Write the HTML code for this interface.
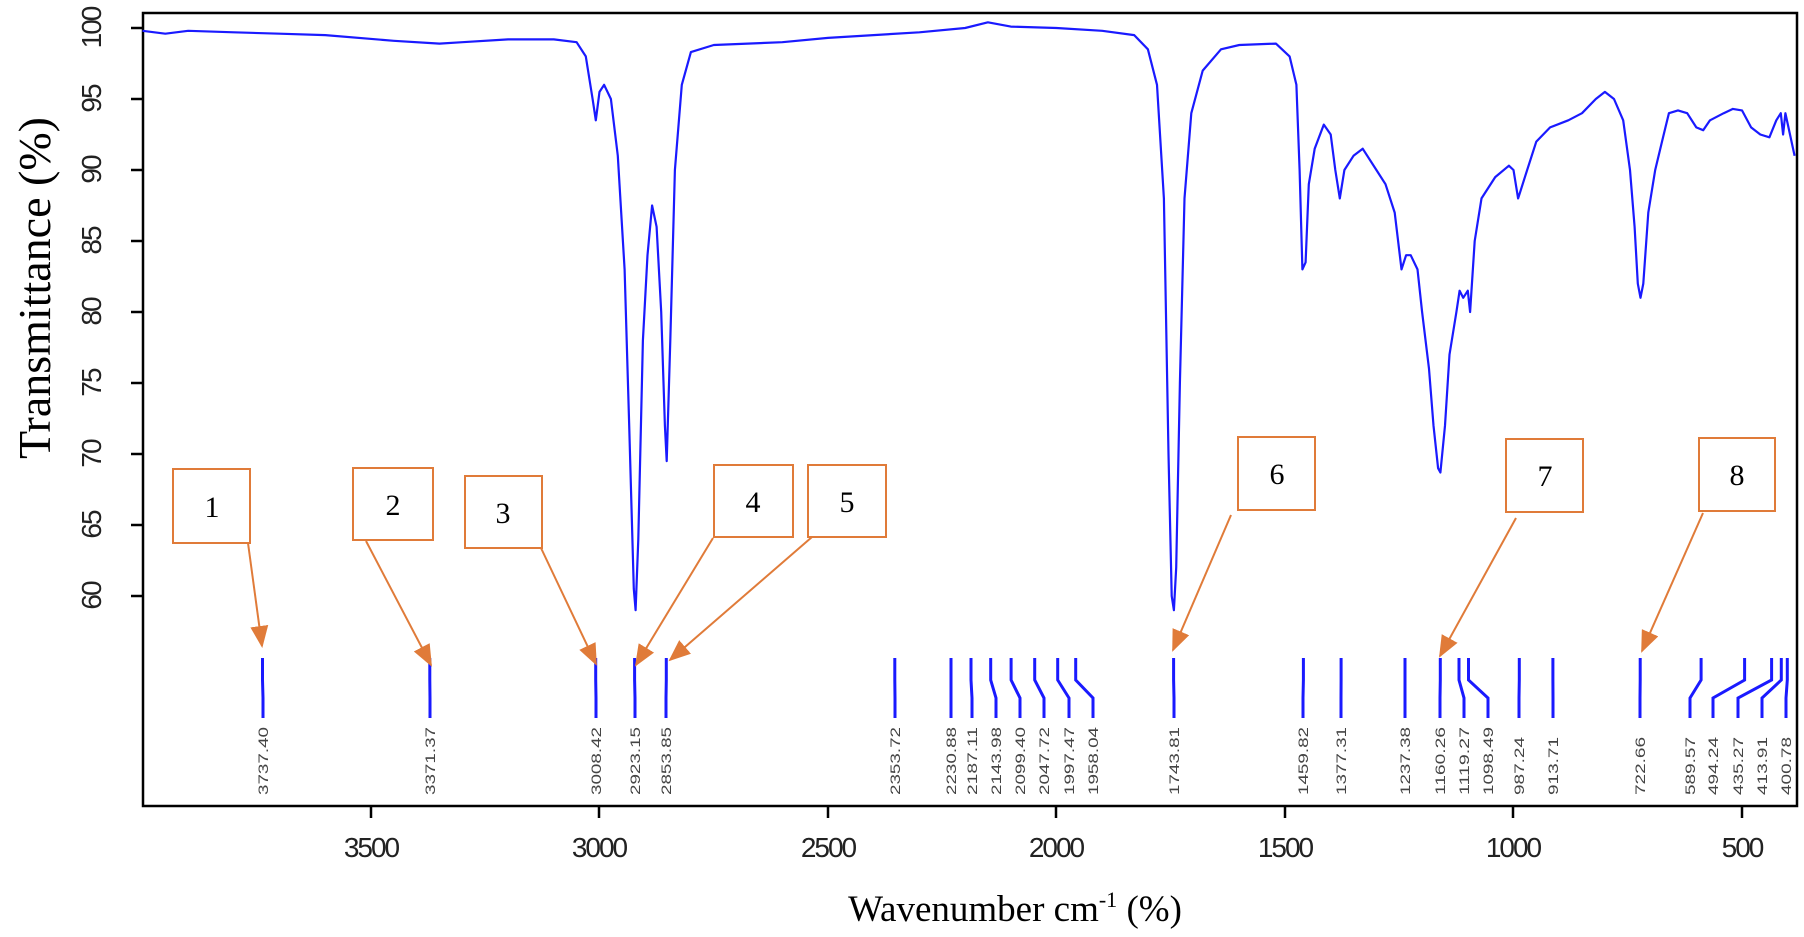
<!DOCTYPE html>
<html><head><meta charset="utf-8"><style>
html,body{margin:0;padding:0;background:#fff;}
svg{display:block;}
.tk{font-family:"Liberation Sans",sans-serif;font-size:28px;fill:#222;letter-spacing:-2px;}
.pk{font-family:"Liberation Sans",sans-serif;font-size:14px;fill:#444;}
.num{font-family:"Liberation Serif",serif;font-size:30px;fill:#000;}
.ax{font-family:"Liberation Serif",serif;fill:#000;}
</style></head><body>
<svg id="s" width="1804" height="937" viewBox="0 0 1804 937" xmlns="http://www.w3.org/2000/svg">
<defs>
<marker id="ah2" markerWidth="22" markerHeight="18" refX="20" refY="9" orient="auto" markerUnits="userSpaceOnUse"><path d="M0,0 L22,9 L0,18 z" fill="#e07b39"/></marker></defs>
<rect x="143" y="13" width="1654" height="793" fill="none" stroke="#000" stroke-width="2.5"/>
<path id="spec" fill="none" stroke="#1a1aff" stroke-width="2.2" stroke-linejoin="round"/>
<g id="sticks" stroke="#1a1aff" stroke-width="3" fill="none"></g>
<g stroke="#000" stroke-width="2.5">
<line x1="131" y1="28" x2="143" y2="28"/><line x1="131" y1="99" x2="143" y2="99"/><line x1="131" y1="170" x2="143" y2="170"/><line x1="131" y1="241" x2="143" y2="241"/><line x1="131" y1="312" x2="143" y2="312"/><line x1="131" y1="383" x2="143" y2="383"/><line x1="131" y1="454" x2="143" y2="454"/><line x1="131" y1="525" x2="143" y2="525"/><line x1="131" y1="596" x2="143" y2="596"/>
<line x1="371" y1="806" x2="371" y2="818"/><line x1="599" y1="806" x2="599" y2="818"/><line x1="828" y1="806" x2="828" y2="818"/><line x1="1056" y1="806" x2="1056" y2="818"/><line x1="1285" y1="806" x2="1285" y2="818"/><line x1="1513" y1="806" x2="1513" y2="818"/><line x1="1742" y1="806" x2="1742" y2="818"/>
</g>
<g class="tk" text-anchor="middle">
<text transform="translate(101,28) rotate(-90)">100</text>
<text transform="translate(101,99) rotate(-90)">95</text>
<text transform="translate(101,170) rotate(-90)">90</text>
<text transform="translate(101,241) rotate(-90)">85</text>
<text transform="translate(101,312) rotate(-90)">80</text>
<text transform="translate(101,383) rotate(-90)">75</text>
<text transform="translate(101,454) rotate(-90)">70</text>
<text transform="translate(101,525) rotate(-90)">65</text>
<text transform="translate(101,596) rotate(-90)">60</text>
<text x="371" y="857">3500</text><text x="599" y="857">3000</text><text x="828" y="857">2500</text><text x="1056" y="857">2000</text><text x="1285" y="857">1500</text><text x="1742" y="857">500</text><text x="1513" y="857">1000</text>
</g>
<text class="ax" font-size="46" transform="translate(50,288) rotate(-90)" text-anchor="middle">Transmittance (%)</text>
<text class="ax" font-size="37" x="1015" y="921" text-anchor="middle">Wavenumber cm<tspan font-size="22" dy="-14">-1</tspan><tspan dy="14"> (%)</tspan></text>
<g class="pk" lengthAdjust="spacingAndGlyphs">
<text textLength="68" lengthAdjust="spacingAndGlyphs" transform="translate(268,795) rotate(-90)">3737.40</text>
<text textLength="68" lengthAdjust="spacingAndGlyphs" transform="translate(435,795) rotate(-90)">3371.37</text>
<text textLength="68" lengthAdjust="spacingAndGlyphs" transform="translate(601,795) rotate(-90)">3008.42</text>
<text textLength="68" lengthAdjust="spacingAndGlyphs" transform="translate(640,795) rotate(-90)">2923.15</text>
<text textLength="68" lengthAdjust="spacingAndGlyphs" transform="translate(671,795) rotate(-90)">2853.85</text>
<text textLength="68" lengthAdjust="spacingAndGlyphs" transform="translate(900,795) rotate(-90)">2353.72</text>
<text textLength="68" lengthAdjust="spacingAndGlyphs" transform="translate(956,795) rotate(-90)">2230.88</text>
<text textLength="68" lengthAdjust="spacingAndGlyphs" transform="translate(977,795) rotate(-90)">2187.11</text>
<text textLength="68" lengthAdjust="spacingAndGlyphs" transform="translate(1001,795) rotate(-90)">2143.98</text>
<text textLength="68" lengthAdjust="spacingAndGlyphs" transform="translate(1025,795) rotate(-90)">2099.40</text>
<text textLength="68" lengthAdjust="spacingAndGlyphs" transform="translate(1049,795) rotate(-90)">2047.72</text>
<text textLength="68" lengthAdjust="spacingAndGlyphs" transform="translate(1074,795) rotate(-90)">1997.47</text>
<text textLength="68" lengthAdjust="spacingAndGlyphs" transform="translate(1098,795) rotate(-90)">1958.04</text>
<text textLength="68" lengthAdjust="spacingAndGlyphs" transform="translate(1179,795) rotate(-90)">1743.81</text>
<text textLength="68" lengthAdjust="spacingAndGlyphs" transform="translate(1308,795) rotate(-90)">1459.82</text>
<text textLength="68" lengthAdjust="spacingAndGlyphs" transform="translate(1346,795) rotate(-90)">1377.31</text>
<text textLength="68" lengthAdjust="spacingAndGlyphs" transform="translate(1410,795) rotate(-90)">1237.38</text>
<text textLength="68" lengthAdjust="spacingAndGlyphs" transform="translate(1445,795) rotate(-90)">1160.26</text>
<text textLength="68" lengthAdjust="spacingAndGlyphs" transform="translate(1469,795) rotate(-90)">1119.27</text>
<text textLength="68" lengthAdjust="spacingAndGlyphs" transform="translate(1493,795) rotate(-90)">1098.49</text>
<text textLength="58" lengthAdjust="spacingAndGlyphs" transform="translate(1524,795) rotate(-90)">987.24</text>
<text textLength="58" lengthAdjust="spacingAndGlyphs" transform="translate(1558,795) rotate(-90)">913.71</text>
<text textLength="58" lengthAdjust="spacingAndGlyphs" transform="translate(1645,795) rotate(-90)">722.66</text>
<text textLength="58" lengthAdjust="spacingAndGlyphs" transform="translate(1695,795) rotate(-90)">589.57</text>
<text textLength="58" lengthAdjust="spacingAndGlyphs" transform="translate(1718,795) rotate(-90)">494.24</text>
<text textLength="58" lengthAdjust="spacingAndGlyphs" transform="translate(1743,795) rotate(-90)">435.27</text>
<text textLength="58" lengthAdjust="spacingAndGlyphs" transform="translate(1767,795) rotate(-90)">413.91</text>
<text textLength="58" lengthAdjust="spacingAndGlyphs" transform="translate(1791,795) rotate(-90)">400.78</text>
</g>
<g fill="#fff" stroke="#e07b39" stroke-width="2">
<rect x="173" y="469" width="77" height="74"/><rect x="353" y="468" width="80" height="72"/><rect x="465" y="476" width="77" height="72"/><rect x="714" y="465" width="79" height="72"/><rect x="808" y="465" width="78" height="72"/><rect x="1238" y="437" width="77" height="73"/><rect x="1506" y="439" width="77" height="73"/><rect x="1699" y="438" width="76" height="73"/>
</g>
<g stroke="#e07b39" stroke-width="2" marker-end="url(#ah2)">
<line x1="248" y1="543" x2="262" y2="646"/><line x1="366" y1="541" x2="431" y2="665"/><line x1="541" y1="548" x2="596" y2="664"/><line x1="713" y1="538" x2="636" y2="665"/><line x1="812" y1="537" x2="670" y2="660"/><line x1="1231" y1="515" x2="1173" y2="650"/><line x1="1516" y1="518" x2="1440" y2="656"/><line x1="1703" y1="513" x2="1642" y2="651"/>
</g>
<g class="num" text-anchor="middle">
<text x="212" y="517">1</text><text x="393" y="515">2</text><text x="503" y="523">3</text><text x="753" y="512">4</text><text x="847" y="512">5</text><text x="1277" y="484">6</text><text x="1545" y="486">7</text><text x="1737" y="485">8</text>
</g>
</svg>
<script>
var X=function(w){return 1742-(w-500)*0.457;},Y=function(v){return 28+(100-v)*14.2;};
var d=[[4000,99.8],[3950,99.6],[3900,99.8],[3800,99.7],[3700,99.6],[3600,99.5],[3450,99.1],[3350,98.9],[3300,99.0],[3200,99.2],[3100,99.2],[3050,99.0],[3030,98],[3015,95],[3008,93.5],[3000,95.5],[2990,96],[2975,95],[2960,91],[2945,83],[2935,72],[2925,60.5],[2921,59],[2915,64],[2905,78],[2895,84],[2885,87.5],[2875,86],[2865,80],[2857,72],[2853,69.5],[2845,78],[2835,90],[2820,96],[2800,98.3],[2750,98.8],[2600,99],[2500,99.3],[2300,99.7],[2200,100],[2150,100.4],[2100,100.1],[2000,100],[1900,99.8],[1830,99.5],[1800,98.5],[1780,96],[1765,88],[1755,70],[1748,60],[1743,59],[1738,62],[1730,75],[1720,88],[1705,94],[1680,97],[1640,98.5],[1600,98.8],[1520,98.9],[1490,98],[1475,96],[1468,90],[1462,83],[1455,83.5],[1448,89],[1435,91.5],[1415,93.2],[1400,92.5],[1390,90],[1380,88],[1370,90],[1350,91],[1330,91.5],[1300,90],[1280,89],[1260,87],[1245,83],[1235,84],[1225,84],[1210,83],[1200,80],[1185,76],[1175,72],[1165,69],[1160,68.7],[1150,72],[1140,77],[1125,80],[1118,81.5],[1110,81],[1100,81.5],[1095,80],[1085,85],[1070,88],[1040,89.5],[1010,90.3],[1000,90],[990,88],[985,88.5],[975,89.5],[950,92],[920,93],[880,93.5],[850,94],[820,95],[800,95.5],[780,95],[760,93.5],[745,90],[735,86],[728,82],[722,81],[716,82],[705,87],[690,90],[675,92],[660,94],[640,94.2],[620,94],[600,93],[585,92.8],[570,93.5],[540,94],[520,94.3],[500,94.2],[480,93],[460,92.5],[440,92.3],[425,93.5],[415,94],[410,92.5],[405,94],[395,92.5],[385,91]];
var p="";d.forEach(function(q,i){p+=(i?"L":"M")+X(q[0]).toFixed(1)+","+Y(q[1]).toFixed(1);});
document.getElementById("spec").setAttribute("d",p);
var st=[[3737.4,263],[3371.37,430],[3008.42,596],[2923.15,635],[2853.85,666],[2353.72,895],[2230.88,951],[2187.11,972],[2143.98,996],[2099.4,1020],[2047.72,1044],[1997.47,1069],[1958.04,1093],[1743.81,1174],[1459.82,1303],[1377.31,1341],[1237.38,1405],[1160.26,1440],[1119.27,1464],[1098.49,1488],[987.24,1519],[913.71,1553],[722.66,1640],[589.57,1690],[494.24,1713],[435.27,1738],[413.91,1762],[400.78,1786]];
var g=document.getElementById("sticks"),h="";
st.forEach(function(s){var t=X(s[0]),b=s[1];h+='<path d="M'+t.toFixed(1)+',658 L'+t.toFixed(1)+',680 L'+b+',698 L'+b+',718"/>';});
g.innerHTML=h;
</script>
</body></html>
